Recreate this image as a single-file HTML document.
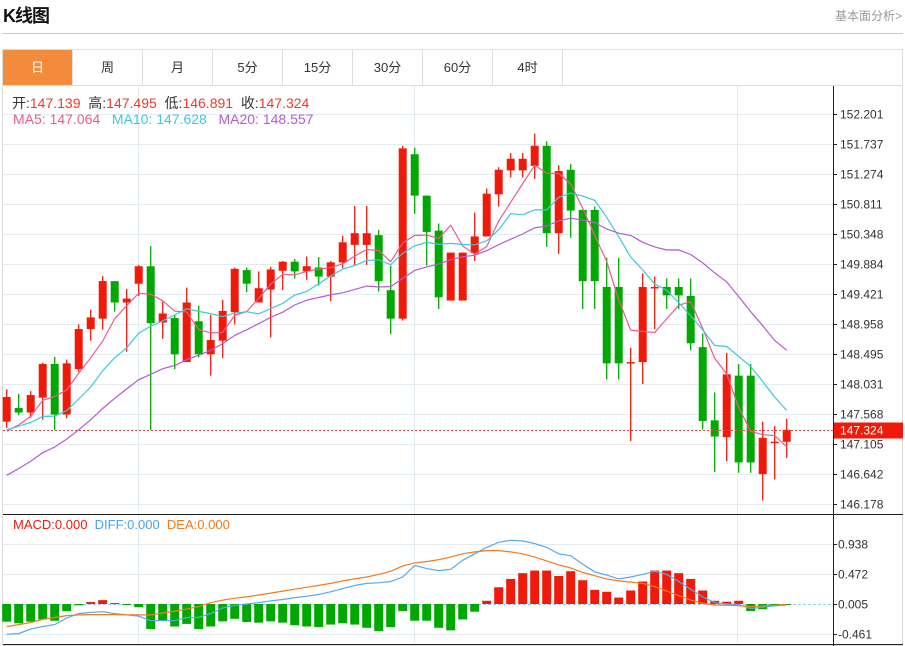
<!DOCTYPE html>
<html><head><meta charset="utf-8">
<style>
html,body{margin:0;padding:0;background:#fff;}
body{width:905px;height:646px;position:relative;overflow:hidden;font-family:"Liberation Sans","Noto Sans CJK SC",sans-serif;}
.title{position:absolute;left:3px;top:2px;font-size:18px;font-weight:bold;color:#111;letter-spacing:-1px;}
.more{position:absolute;right:3px;top:7px;font-size:12px;color:#999;}
.hr{position:absolute;left:2px;top:33px;width:901px;height:1px;background:#ccc;}
.tabs{position:absolute;left:2px;top:49px;width:899px;height:35px;border:1px solid #ddd;display:flex;}
.tab{width:70px;height:35px;line-height:35px;text-align:center;font-size:13px;color:#333;border-right:1px solid #ddd;box-sizing:border-box;}
.tab.on{background:#f28b3c;color:#fff;}
svg{position:absolute;left:0;top:0;}
</style></head><body>
<div class="title">K线图</div>
<div class="more">基本面分析&gt;</div>
<div class="hr"></div>
<div class="tabs">
<div class="tab on">日</div>
<div class="tab">周</div>
<div class="tab">月</div>
<div class="tab">5分</div>
<div class="tab">15分</div>
<div class="tab">30分</div>
<div class="tab">60分</div>
<div class="tab">4时</div>
</div>
<svg id="chart" width="905" height="646"></svg>
<script>
const opens=[147.45,147.66,147.59,147.82,148.34,147.56,148.26,148.88,149.04,149.62,149.29,149.58,149.85,148.98,149.05,148.37,149.00,148.49,148.70,149.14,149.79,149.29,149.49,149.78,149.92,149.77,149.83,149.69,149.91,150.18,150.18,150.33,149.48,149.04,151.58,150.94,150.40,149.32,149.32,150.05,150.31,150.96,151.33,151.33,151.40,151.71,150.36,151.34,150.72,150.72,149.53,149.53,148.35,148.37,149.52,149.53,149.53,149.39,148.60,147.47,147.21,148.16,148.16,146.64,147.12,147.139];
const highs=[147.95,147.88,147.92,148.36,148.45,148.41,148.95,149.18,149.70,149.62,149.50,149.87,150.16,149.30,149.10,149.52,149.24,149.10,149.33,149.83,149.83,149.77,149.84,149.93,149.96,150.00,149.99,149.93,150.32,150.78,150.78,150.41,149.86,151.71,151.68,150.94,150.51,150.06,150.06,150.68,151.05,151.38,151.60,151.60,151.90,151.78,151.41,151.43,150.72,150.77,149.98,149.98,148.59,149.74,149.69,149.66,149.66,149.66,148.81,147.90,148.51,148.34,148.34,147.45,147.38,147.495];
const lows=[147.35,147.55,147.51,147.48,147.32,147.50,148.22,148.70,148.87,149.15,148.53,149.39,147.32,148.73,148.26,148.37,148.44,148.16,148.43,148.95,149.45,149.29,148.75,149.48,149.66,149.64,149.55,149.31,149.82,149.87,149.87,149.46,148.80,149.01,150.66,149.86,149.19,149.32,149.32,149.93,150.31,150.77,151.22,151.22,151.20,150.15,150.04,150.29,149.19,149.19,148.10,148.10,147.15,148.03,148.88,149.19,149.19,148.55,147.33,146.67,146.84,146.66,146.66,146.23,146.56,146.891];
const closes=[147.83,147.59,147.86,148.34,147.56,148.35,148.88,149.06,149.62,149.29,149.35,149.85,148.97,149.12,148.49,149.29,148.49,148.71,149.16,149.81,149.58,149.51,149.80,149.92,149.77,149.85,149.69,149.91,150.22,150.36,150.36,149.62,149.04,151.67,150.94,150.38,149.37,150.06,150.06,150.31,150.97,151.34,151.51,151.51,151.71,150.36,151.32,150.71,149.62,149.62,148.35,148.35,148.37,149.53,149.53,149.40,149.40,148.66,147.46,147.22,148.18,146.82,146.82,147.20,147.14,147.324];
const priorCloses=[145.5,145.6,145.7,145.8,145.9,146.0,146.0,146.1,146.2,146.4,147.0,147.3,147.4,147.5,147.5,147.1,147.2,147.1,147.28];
const priceTicks=[152.201,151.737,151.274,150.811,150.348,149.884,149.421,148.958,148.495,148.031,147.568,147.105,146.642,146.178];
const macdHist=[-0.275,-0.30,-0.275,-0.24,-0.26,-0.11,-0.02,0.03,0.06,0.015,-0.01,-0.05,-0.39,-0.26,-0.35,-0.31,-0.39,-0.35,-0.27,-0.23,-0.28,-0.29,-0.27,-0.29,-0.33,-0.35,-0.36,-0.32,-0.30,-0.32,-0.37,-0.42,-0.36,-0.11,-0.26,-0.26,-0.37,-0.41,-0.24,-0.12,0.05,0.26,0.39,0.48,0.52,0.52,0.435,0.51,0.37,0.22,0.19,0.10,0.21,0.35,0.52,0.52,0.48,0.39,0.21,0.05,0.035,0.05,-0.11,-0.08,-0.03,-0.015];
const diffVals=[-0.47,-0.46,-0.39,-0.35,-0.32,-0.22,-0.15,-0.13,-0.12,-0.15,-0.17,-0.19,-0.26,-0.26,-0.26,-0.21,-0.21,-0.15,-0.06,-0.02,0.0,0.02,0.05,0.07,0.10,0.12,0.15,0.19,0.24,0.29,0.32,0.33,0.35,0.42,0.60,0.55,0.52,0.54,0.68,0.78,0.88,0.96,0.99,0.98,0.94,0.88,0.78,0.75,0.62,0.50,0.45,0.39,0.42,0.46,0.51,0.46,0.35,0.23,0.11,0.02,0.0,-0.01,-0.07,-0.05,-0.03,-0.015];
const deaVals=[-0.35,-0.32,-0.29,-0.24,-0.21,-0.18,-0.17,-0.165,-0.165,-0.165,-0.17,-0.17,-0.17,-0.14,-0.11,-0.08,-0.04,0.02,0.06,0.09,0.11,0.14,0.17,0.20,0.23,0.26,0.29,0.32,0.36,0.39,0.42,0.46,0.51,0.59,0.64,0.66,0.69,0.73,0.78,0.81,0.83,0.83,0.81,0.78,0.73,0.67,0.61,0.56,0.49,0.44,0.39,0.36,0.34,0.32,0.27,0.20,0.13,0.06,0.01,-0.015,-0.02,-0.025,-0.04,-0.03,-0.02,-0.01];
const macdTicks=[0.938,0.472,0.005,-0.461];

const NS='http://www.w3.org/2000/svg';
const svg=document.getElementById('chart');
function mk(tag,attrs,parent){const e=document.createElementNS(NS,tag);for(const k in attrs)e.setAttribute(k,attrs[k]);(parent||svg).appendChild(e);return e;}
const xOf=i=>6.7+12*i;
const yP=p=>114+(152.201-p)*64.75;
const yM=v=>604-v*64.3;
const RED='#f01a0a',GREEN='#02a802';

let e;
e=mk('rect',{x:2.5,y:85.5,width:900,height:560,fill:'none',stroke:'#ddd'});


const grid=mk('g',{stroke:'#e3ebf2','stroke-width':1});


priceTicks.forEach(t=>{const y=Math.round(yP(t))+0.5;mk('line',{x1:3,x2:833,y1:y,y2:y},grid);});
macdTicks.forEach(t=>{const y=Math.round(yM(t))+0.5;if(Math.abs(t)>0.01)mk('line',{x1:3,x2:833,y1:y,y2:y},grid);});
[138.5,414.5,737.5].forEach(x=>mk('line',{x1:x,x2:x,y1:86,y2:646},grid));
e=mk('line',{x1:833.5,x2:833.5,y1:86,y2:646,stroke:'#222'});


e=mk('line',{x1:3,x2:903,y1:514.5,y2:514.5,stroke:'#222'});


e=mk('line',{x1:3,x2:903,y1:644.5,y2:644.5,stroke:'#222'});


priceTicks.forEach(t=>{const y=Math.round(yP(t))+0.5;
mk('line',{x1:833,x2:837,y1:y,y2:y,stroke:'#222'});
const tx=mk('text',{x:840,y:y+4,'font-size':12,fill:'#333'});tx.textContent=t.toFixed(3);

});
macdTicks.forEach(t=>{const y=Math.round(yM(t))+0.5;
mk('line',{x1:833,x2:837,y1:y,y2:y,stroke:'#222'});
const tx=mk('text',{x:838,y:y+4,'font-size':12,fill:'#333'});tx.textContent=t.toFixed(3);

});
const cg=mk('g',{});


opens.forEach((o,i)=>{const c=closes[i],up=c>=o,col=up?RED:GREEN,x=xOf(i);
const g=mk('g',{},cg);


mk('line',{x1:x,x2:x,y1:yP(highs[i]),y2:yP(lows[i]),stroke:col,'stroke-width':1.3},g);
const top=yP(Math.max(o,c)),bot=yP(Math.min(o,c));
mk('rect',{x:x-4,y:top,width:8,height:Math.max(1.5,bot-top),fill:col},g);});
const all=priorCloses.concat(closes);
function ma(n){return closes.map((_,i)=>{const j=i+priorCloses.length;let s=0;for(let k=j-n+1;k<=j;k++)s+=all[k];return s/n;});}
[[5,'#ee5a8c','ma5-line'],[10,'#3fc6df','ma10-line'],[20,'#b45ccf','ma20-line']].forEach(([n,col,name])=>{
const v=ma(n);const p=mk('polyline',{points:v.map((m,i)=>xOf(i)+','+yP(m).toFixed(1)).join(' '),fill:'none',stroke:col,'stroke-width':1.2});

});
const cp=closes[closes.length-1],cy=Math.round(yP(cp))+0.5;
e=mk('line',{x1:3,x2:833,y1:cy,y2:cy,stroke:'#f04040','stroke-dasharray':'2,2'});


e=mk('rect',{x:834,y:cy-8,width:69,height:16,fill:'#f01a0a'});


e=mk('text',{x:840,y:cy+4,'font-size':12,fill:'#fff'});e.textContent=cp.toFixed(3);


const z=Math.round(yM(0))+0.5;
e=mk('line',{x1:3,x2:833,y1:z,y2:z,stroke:'#8fd0f0','stroke-dasharray':'3,2'});


const hg=mk('g',{});


macdHist.forEach((v,i)=>{const y=yM(v),x=xOf(i);
const r=mk('rect',{x:x-4.5,y:Math.min(y,yM(0)),width:9,height:Math.max(1,Math.abs(y-yM(0))),fill:v>=0?RED:GREEN},hg);

});
e=mk('polyline',{points:diffVals.map((v,i)=>xOf(i)+','+yM(v).toFixed(1)).join(' '),fill:'none',stroke:'#55a8f0','stroke-width':1.2});


e=mk('polyline',{points:deaVals.map((v,i)=>xOf(i)+','+yM(v).toFixed(1)).join(' '),fill:'none',stroke:'#f57a1e','stroke-width':1.2});


</script>
<div style="position:absolute;left:12px;top:93px;font-size:14px;white-space:pre;color:#333">开:<span style="color:#f03a2a">147.139</span>  高:<span style="color:#f03a2a">147.495</span>  低:<span style="color:#f03a2a">146.891</span>  收:<span style="color:#f03a2a">147.324</span></div>
<div style="position:absolute;left:13px;top:111px;font-size:14px;white-space:pre"><span style="color:#ee5a8c">MA5: 147.064</span>   <span style="color:#3fc6df">MA10: 147.628</span>   <span style="color:#b45ccf">MA20: 148.557</span></div>
<div style="position:absolute;left:13px;top:517px;font-size:13px;white-space:pre"><span style="color:#f01a0a">MACD:0.000</span>  <span style="color:#4aa3f0">DIFF:0.000</span>  <span style="color:#f57a1e">DEA:0.000</span></div>
</body></html>
